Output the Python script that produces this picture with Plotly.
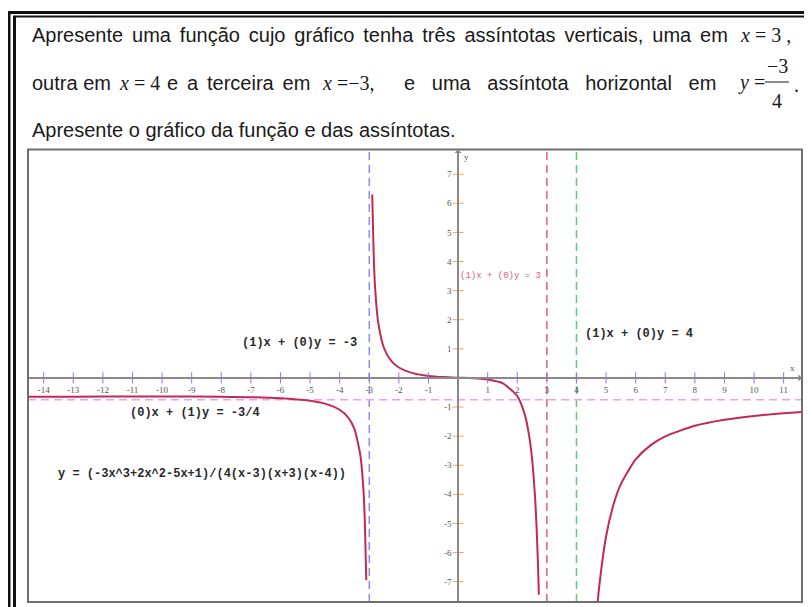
import plotly.graph_objects as go

# a página tem 8px de margem no body: a figura ocupa de (8,8) até (812,607)
OFF = 8
W, H = 812 - OFF, 607 - OFF

# ramos da curva y = (-3x^3+2x^2-5x+1)/(4(x-3)(x+3)(x-4))
left_x = [-14.53, -14, -12, -10, -8, -6, -5, -4.5, -4, -3.7, -3.5, -3.3, -3.2, -3.15, -3.1]
left_y = [-0.647, -0.646, -0.640, -0.638, -0.646, -0.695, -0.783, -0.882, -1.094, -1.377,
          -1.760, -2.665, -3.80, -4.94, -6.95]

mid_x = [-2.9, -2.85, -2.8, -2.7, -2.5, -2.25, -2, -1.5, -1, -0.5, 0, 0.5, 1, 1.5, 2,
         2.25, 2.4, 2.5, 2.6, 2.65, 2.7, 2.73]
mid_y = [6.3, 4.20, 3.06, 1.92, 1.02, 0.575, 0.358, 0.156, 0.069, 0.028, 0.007, -0.011,
         -0.052, -0.180, -0.625, -1.244, -1.975, -2.78, -4.08, -5.06, -6.41, -7.45]

right_x = [4.7, 4.76, 5, 5.25, 5.5, 6, 6.5, 7, 8, 9, 10, 11, 11.62]
right_y = [-7.91, -7.25, -5.45, -4.355, -3.648, -2.80, -2.318, -2.01, -1.644, -1.437,
           -1.3045, -1.213, -1.168]

# assíntotas
vert_asym = [-3, 3, 4]
vert_colors = ["#8c8cf0", "#e0607f", "#5cc878"]
horiz_asym = [-0.75]

x_ticks = [t for t in range(-14, 12) if t != 0]
y_ticks = [t for t in range(-7, 8) if t != 0]

x_range = [-14.53, 11.62]
y_range = [-7.70, 7.85]


def px(x):
    return (x - OFF) / W


def py(y):
    return 1 - (y - OFF) / H


curve_color = "#c02a55"
axis_color = "#8a8a8a"

fig = go.Figure()

for bx, by in [(left_x, left_y), (mid_x, mid_y), (right_x, right_y)]:
    fig.add_trace(go.Scatter(x=bx, y=by, mode="lines",
                             line=dict(color=curve_color, width=2, shape="spline", smoothing=0.6),
                             hoverinfo="skip", showlegend=False))

# marcas dos eixos (cruzam o eixo)
fig.add_trace(go.Scatter(x=x_ticks, y=[0] * len(x_ticks), mode="markers",
                         marker=dict(symbol="line-ns-open", size=8,
                                     line=dict(color=axis_color, width=1)),
                         hoverinfo="skip", showlegend=False))
fig.add_trace(go.Scatter(x=[0] * len(y_ticks), y=y_ticks, mode="markers",
                         marker=dict(symbol="line-ew-open", size=8,
                                     line=dict(color=axis_color, width=1)),
                         hoverinfo="skip", showlegend=False))

for v, c in zip(vert_asym, vert_colors):
    fig.add_shape(type="line", xref="x", yref="y domain", x0=v, x1=v, y0=0, y1=1,
                  line=dict(color=c, width=1.5, dash="8px,5px"), layer="below")
for h in horiz_asym:
    fig.add_shape(type="line", xref="x domain", yref="y", x0=0, x1=1, y0=h, y1=h,
                  line=dict(color="#f0a0e8", width=1.5, dash="8px,5px"), layer="below")

# moldura do gráfico
fig.add_shape(type="rect", xref="x domain", yref="y domain", x0=0, x1=1, y0=0, y1=1,
              line=dict(color="#6e6e6e", width=2))

# moldura externa (linhas duplas)
for x0, y0, w in [(9, 12, 3), (14.5, 16, 3)]:
    fig.add_shape(type="line", xref="paper", yref="paper", x0=px(x0), x1=px(x0),
                  y0=py(y0), y1=py(H + OFF), line=dict(color="#111", width=w))
for x0, y0, w in [(8, 12.5, 3), (13, 16.5, 2)]:
    fig.add_shape(type="line", xref="paper", yref="paper", x0=px(x0), x1=1,
                  y0=py(y0), y1=py(y0), line=dict(color="#111", width=w))

sans = "Arial, Liberation Sans, sans-serif"
serif = "Times New Roman, Liberation Serif, serif"
mono = "Courier New, Liberation Mono, monospace"


def head(text, x, y, family=sans, anchor="left", size=20):
    fig.add_annotation(text=text, xref="paper", yref="paper", x=px(x), y=py(y),
                       xanchor=anchor, yanchor="middle", showarrow=False,
                       font=dict(family=family, size=size, color="#1a1a1a"))


def spaced(text, extra):
    # texto justificado: espaços um pouco mais largos
    return text.replace(" ", " " + extra)


head(spaced("Apresente uma função cujo gráfico tenha três assíntotas verticais, uma em", "\u2006"), 30, 35)
head("<i>x</i> = 3 ,", 738, 35, family=serif)
head("outra em", 30, 83)
head("<i>x</i> = 4", 117, 83, family=serif)
head(spaced("e a terceira em", "\u2006"), 165, 83)
head("<i>x</i> =−3,", 320, 83, family=serif)
head(spaced("e uma assíntota horizontal em", "\u00a0\u00a0"), 402, 83)
head("<i>y</i> =", 736, 83, family=serif)
head("−3", 777, 66, family=serif, anchor="center")
head("4", 777, 101, family=serif, anchor="center")
head(".", 792, 85, family=serif)
fig.add_shape(type="line", xref="paper", yref="paper", x0=px(765), x1=px(789),
              y0=py(82), y1=py(82), line=dict(color="#1a1a1a", width=1))
head("Apresente o gráfico da função e das assíntotas.", 30, 130)


def label(text, x, y, anchor, size=12, color="#2a2a2a", bold=True):
    fig.add_annotation(text=f"<b>{text}</b>" if bold else text, x=x, y=y, xref="x", yref="y",
                       xanchor=anchor, yanchor="middle", showarrow=False,
                       font=dict(family=mono, size=size, color=color))


label("(1)x + (0)y = -3", -3.34, 1.2, "right")
label("(1)x + (0)y = 4", 4.22, 1.51, "left")
label("(1)x + (0)y = 3", 2.87, 3.5, "right", size=9, color="#d8607f", bold=False)
label("(0)x + (1)y = -3/4", -11.15, -1.2, "left")
label("y = (-3x^3+2x^2-5x+1)/(4(x-3)(x+3)(x-4))", -13.6, -3.3, "left")

# setas e nomes dos eixos
fig.add_annotation(x=x_range[1], y=0, xref="x", yref="y", ax=-9, ay=0, text="",
                   showarrow=True, arrowhead=1, arrowsize=1, arrowwidth=1.2,
                   arrowcolor=axis_color)
fig.add_annotation(x=0, y=y_range[1], xref="x", yref="y", ax=0, ay=9, text="",
                   showarrow=True, arrowhead=1, arrowsize=1, arrowwidth=1.2,
                   arrowcolor=axis_color)
fig.add_annotation(x=11.3, y=0.35, xref="x", yref="y", text="x", showarrow=False,
                   font=dict(family=serif, size=9, color="#555"))
fig.add_annotation(x=0.3, y=7.6, xref="x", yref="y", text="y", showarrow=False,
                   font=dict(family=serif, size=9, color="#555"))

tick_font = dict(family=serif, size=9, color="#555")
fig.update_layout(
    width=W, height=H,
    margin=dict(l=0, r=0, t=0, b=0),
    paper_bgcolor="white", plot_bgcolor="white",
    xaxis=dict(range=x_range, domain=[px(28), px(802)], anchor="free",
               position=py(378), showline=True, linecolor=axis_color, linewidth=1.5,
               showgrid=False, zeroline=False, ticks="",
               tickvals=x_ticks, ticktext=[str(t) for t in x_ticks],
               tickfont=tick_font, ticklabelstandoff=3, fixedrange=True),
    yaxis=dict(range=y_range, domain=[py(602), py(149.5)], anchor="free",
               position=px(458), showline=True, linecolor=axis_color, linewidth=1.5,
               showgrid=False, zeroline=False, ticks="",
               tickvals=y_ticks, ticktext=[str(t) for t in y_ticks],
               tickfont=tick_font, ticklabelstandoff=4, fixedrange=True),
    showlegend=False,
)

fig.write_html("out.html")
